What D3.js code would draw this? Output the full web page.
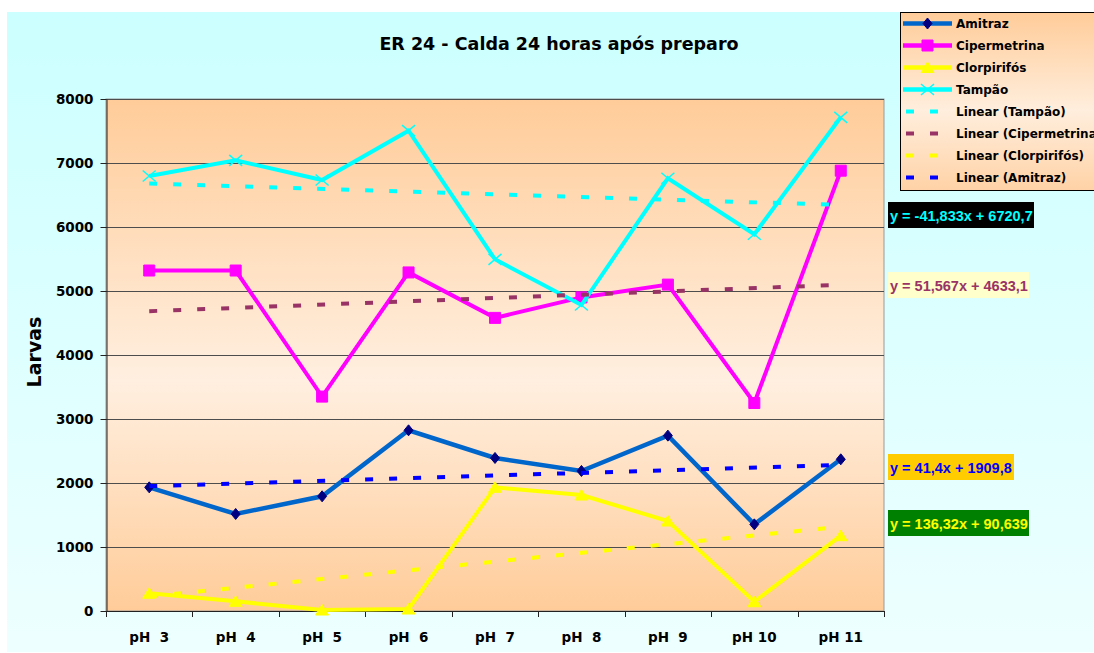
<!DOCTYPE html>
<meta charset="utf-8">
<style>
  body {
    margin: 0;
    background: #fff;
  }

  svg text {
    font-family: "DejaVu Sans", sans-serif;
    font-weight: bold;
    fill: #000;
  }

  .grid line {
    stroke: #4d4d4d;
    stroke-width: 1;
  }

  .axis path, .axis line {
    stroke: #222;
  }

  .series path.line {
    fill: none;
  }

  .trends path {
    fill: none;
    stroke-width: 4;
    stroke-dasharray: 8, 16;
  }

  .eq text {
    font-family: "Liberation Sans", Arial, sans-serif;
    font-size: 14.5px;
  }
</style>
<body>
<script src="https://cdn.jsdelivr.net/npm/d3@7/dist/d3.min.js"></script>
<script>

const width = 1094;
const height = 653;
const plot = {left: 106, right: 884, top: 99, bottom: 611};

const categories = ["pH  3", "pH  4", "pH  5", "pH  6", "pH  7", "pH  8", "pH  9", "pH 10", "pH 11"];

const series = [
  {name: "Amitraz", color: "#0066CC", marker: "diamond", fill: "#000080", width: 4.5,
   values: [1932, 1516, 1792, 2823, 2391, 2188, 2740, 1354, 2370]},
  {name: "Cipermetrina", color: "#FF00FF", marker: "square", fill: "#FF00FF", width: 4,
   values: [5320, 5320, 3350, 5290, 4580, 4900, 5100, 3250, 6880]},
  {name: "Clorpirifós", color: "#FFFF00", marker: "triangle", fill: "#FFFF00", width: 4,
   values: [277, 151, 15, 31, 1932, 1812, 1406, 145, 1177]},
  {name: "Tampão", color: "#00FFFF", marker: "cross", fill: "#00FFFF", width: 4,
   values: [6797, 7042, 6734, 7505, 5495, 4781, 6761, 5886, 7714]}
];

// excel linear trendlines, coefficients as printed on the chart
const trends = [
  {name: "Linear (Tampão)", color: "#00FFFF", a: -41.833, b: 6720.7,
   label: "y = -41,833x + 6720,7", bg: "#000000", fg: "#00FFFF", top: 202, w: 146},
  {name: "Linear (Cipermetrina)", color: "#993366", a: 51.567, b: 4633.1,
   label: "y = 51,567x + 4633,1", bg: "#FFFFCC", fg: "#993366", top: 272, w: 141},
  {name: "Linear (Clorpirifós)", color: "#FFFF00", a: 136.32, b: 90.639,
   label: "y = 136,32x + 90,639", bg: "#008000", fg: "#FFFF00", top: 510, w: 141},
  {name: "Linear (Amitraz)", color: "#0000FF", a: 41.4, b: 1909.8,
   label: "y = 41,4x + 1909,8", bg: "#FFCC00", fg: "#0000FF", top: 454, w: 126}
];

const markers = {
  diamond: "M0,-5.5L4.5,0L0,5.5L-4.5,0Z",
  square: "M-5.5,-5.5H5.5V5.5H-5.5Z",
  triangle: "M0,-5.5L6.5,5L-6.5,5Z",
  cross: "M-6.5,-5.5L6.5,5.5M-6.5,5.5L6.5,-5.5"
};

const svg = d3.select("body")
              .append("svg")
              .attr("width", width)
              .attr("height", height)
              .style("display", "block");

const defs = svg.append("defs");

function gradient(id, stops) {
  const g = defs.append("linearGradient")
                .attr("id", id)
                .attr("x1", 0).attr("y1", 0)
                .attr("x2", 0).attr("y2", 1);
  stops.forEach(s => g.append("stop").attr("offset", s[0]).attr("stop-color", s[1]));
}
gradient("chartBg", [[0, "#CCFFFF"], [1, "#EEFFFF"]]);
gradient("plotBg", [[0, "#FFCC99"], [0.55, "#FFEFE0"], [1, "#FFCC99"]]);
gradient("legendBg", [[0, "#FFCC99"], [0.55, "#FFEEDD"], [1, "#FFD2A6"]]);

svg.append("rect")
   .attr("x", 7)
   .attr("y", 12)
   .attr("width", width - 7)
   .attr("height", 640)
   .attr("fill", "url(#chartBg)");

const xScale = d3.scaleBand()
                 .domain(categories)
                 .range([plot.left, plot.right]);

const yScale = d3.scaleLinear()
                 .domain([0, 8000])
                 .range([plot.bottom, plot.top]);

const cx = i => xScale(categories[i]) + xScale.bandwidth() / 2;

svg.append("rect")
   .attr("x", plot.left)
   .attr("y", plot.top)
   .attr("width", plot.right - plot.left)
   .attr("height", plot.bottom - plot.top)
   .attr("fill", "url(#plotBg)")
   .attr("stroke", "#999")
   .attr("stroke-width", 1);

// gridlines
svg.append("g")
   .attr("class", "grid")
   .selectAll("line")
   .data(d3.range(1000, 8001, 1000))
   .enter().append("line")
   .attr("x1", plot.left)
   .attr("x2", plot.right)
   .attr("y1", d => Math.round(yScale(d)) + 0.5)
   .attr("y2", d => Math.round(yScale(d)) + 0.5);

// y axis
const yAxis = svg.append("g")
                 .attr("class", "axis")
                 .attr("transform", `translate(${plot.left + 0.5},0)`)
                 .call(d3.axisLeft(yScale)
                         .tickValues(d3.range(0, 8001, 1000))
                         .tickFormat(d3.format("d"))
                         .tickSize(6)
                         .tickPadding(7)
                         .tickSizeOuter(0));
yAxis.selectAll("text")
     .style("font-size", "13.5px")
     .style("font-family", "DejaVu Sans")
     .style("font-weight", "bold");
yAxis.select(".domain").attr("stroke", "#222");

// x axis: ticks on category boundaries, labels in the middle
const xAxis = svg.append("g").attr("class", "axis");
xAxis.append("line")
     .attr("x1", plot.left)
     .attr("x2", plot.right)
     .attr("y1", plot.bottom + 0.5)
     .attr("y2", plot.bottom + 0.5);
xAxis.selectAll("line.tick")
     .data(categories.concat([null]))
     .enter().append("line")
     .attr("class", "tick")
     .attr("x1", d => Math.round(d ? xScale(d) : plot.right) + 0.5)
     .attr("x2", d => Math.round(d ? xScale(d) : plot.right) + 0.5)
     .attr("y1", plot.bottom)
     .attr("y2", plot.bottom + 6);
xAxis.selectAll("text")
     .data(categories)
     .enter().append("text")
     .attr("x", (d, i) => cx(i))
     .attr("y", 642)
     .attr("text-anchor", "middle")
     .style("white-space", "pre")
     .style("font-size", "13.5px")
     .text(d => d);

// series lines with markers
const lineFunction = d3.line()
                       .x((d, i) => cx(i))
                       .y(d => yScale(d));

const groups = svg.append("g")
                  .attr("class", "series")
                  .selectAll("g")
                  .data(series)
                  .enter().append("g");

groups.append("path")
      .attr("class", "line")
      .attr("d", d => lineFunction(d.values))
      .attr("stroke", d => d.color)
      .attr("stroke-width", d => d.width);

groups.each(function(s) {
  d3.select(this).selectAll("path.marker")
    .data(s.values)
    .enter().append("path")
    .attr("class", "marker")
    .attr("transform", (d, i) => `translate(${cx(i)},${yScale(d)})`)
    .attr("d", markers[s.marker])
    .attr("fill", s.marker === "cross" ? "none" : s.fill)
    .attr("stroke", s.fill)
    .attr("stroke-width", s.marker === "cross" ? 1.5 : 1);
});

// trendlines on top
svg.append("g")
   .attr("class", "trends")
   .selectAll("path")
   .data(trends)
   .enter().append("path")
   .attr("d", t => d3.line()([[cx(0), yScale(t.a * 1 + t.b)], [cx(8), yScale(t.a * 9 + t.b)]]))
   .attr("stroke", t => t.color);

// trendline equations
const eq = svg.append("g")
              .attr("class", "eq")
              .selectAll("g")
              .data(trends)
              .enter().append("g")
              .attr("transform", t => `translate(888,${t.top})`);
eq.append("rect")
  .attr("width", t => t.w)
  .attr("height", 26)
  .attr("fill", t => t.bg);
eq.append("text")
  .attr("x", 2)
  .attr("y", 18.5)
  .style("fill", t => t.fg)
  .text(t => t.label);

// title
svg.append("text")
   .attr("x", 559)
   .attr("y", 50)
   .attr("text-anchor", "middle")
   .style("font-size", "17.5px")
   .text("ER 24 - Calda 24 horas após preparo");

svg.append("text")
   .attr("transform", "translate(41,352) rotate(-90)")
   .attr("text-anchor", "middle")
   .style("font-size", "19px")
   .text("Larvas");

// legend
const legend = svg.append("g")
                  .attr("class", "legend");
legend.append("rect")
      .attr("x", 900.5)
      .attr("y", 12.5)
      .attr("width", 200)
      .attr("height", 178)
      .attr("fill", "url(#legendBg)")
      .attr("stroke", "#000")
      .attr("stroke-width", 1);

const legendItems = series.map(s => ({type: "series", s: s}))
                          .concat(trends.map(t => ({type: "trend", s: t})));

const rows = legend.selectAll("g.item")
                   .data(legendItems)
                   .enter().append("g")
                   .attr("class", "item")
                   .attr("transform", (d, i) => `translate(0,${23.5 + i * 22})`);

rows.filter(d => d.type === "series")
    .append("line")
    .attr("x1", 903).attr("x2", 952)
    .attr("stroke", d => d.s.color)
    .attr("stroke-width", 4.5);
rows.filter(d => d.type === "series")
    .append("path")
    .attr("transform", "translate(927.5,0)")
    .attr("d", d => markers[d.s.marker])
    .attr("fill", d => d.s.marker === "cross" ? "none" : d.s.fill)
    .attr("stroke", d => d.s.fill)
    .attr("stroke-width", d => d.s.marker === "cross" ? 1.5 : 1);
rows.filter(d => d.type === "trend")
    .append("line")
    .attr("x1", 906).attr("x2", 945)
    .attr("stroke", d => d.s.color)
    .attr("stroke-width", 4)
    .attr("stroke-dasharray", "8,16");
rows.append("text")
    .attr("x", 956)
    .attr("y", 4.5)
    .style("font-size", "12px")
    .text(d => d.s.name);
</script>
</body>
